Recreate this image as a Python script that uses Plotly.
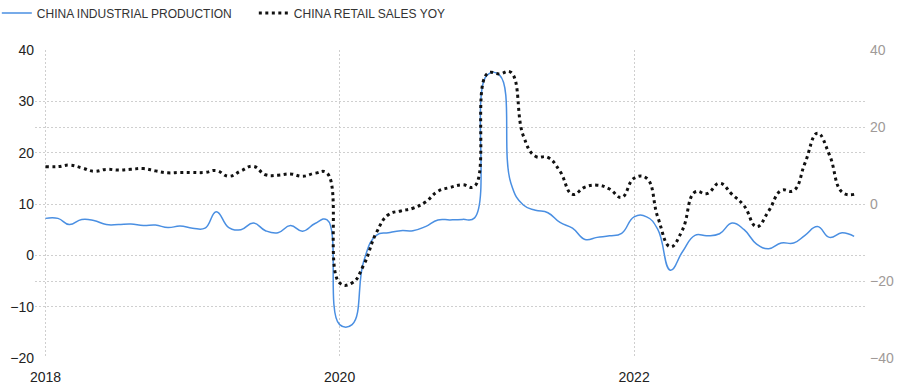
import pandas as pd
import plotly.graph_objects as go

# Monthly data, Jan 2018 - Jul 2023
months = pd.date_range("2018-01-01", periods=67, freq="MS")

industrial_production = [
    7.2, 7.2, 6.0, 7.0, 6.8, 6.0, 6.0, 6.1, 5.8, 5.9, 5.4, 5.7,
    5.3, 5.3, 8.5, 5.4, 5.0, 6.3, 4.8, 4.4, 5.8, 4.7, 6.2, 6.9,
    -13.5, -13.5, -1.1, 3.9, 4.4, 4.8, 4.8, 5.6, 6.9, 6.9, 7.0, 7.3,
    35.1, 35.1, 14.1, 9.8, 8.8, 8.3, 6.4, 5.3, 3.1, 3.5, 3.8, 4.3,
    7.5, 7.5, 5.0, -2.9, 0.7, 3.9, 3.8, 4.2, 6.3, 5.0, 2.2, 1.3,
    2.4, 2.4, 3.9, 5.6, 3.5, 4.4, 3.7,
]

retail_sales = [
    9.7, 9.7, 10.1, 9.4, 8.5, 9.0, 8.8, 9.0, 9.2, 8.6, 8.1, 8.2,
    8.2, 8.2, 8.7, 7.2, 8.6, 9.8, 7.6, 7.5, 7.8, 7.2, 8.0, 8.0,
    -20.5, -20.5, -15.8, -7.5, -2.8, -1.8, -1.1, 0.5, 3.3, 4.3, 5.0, 4.6,
    33.8, 33.8, 34.2, 17.7, 12.4, 12.1, 8.5, 2.5, 4.4, 4.9, 3.9, 1.7,
    6.7, 6.7, -3.5, -11.1, -6.7, 3.1, 2.7, 5.4, 2.5, -0.5, -5.9, -1.8,
    3.5, 3.5, 10.6, 18.4, 12.7, 3.1, 2.5,
]

left_ticks = [-20, -10, 0, 10, 20, 30, 40]
right_ticks = [-40, -20, 0, 20, 40]

fig = go.Figure()
fig.add_trace(go.Scatter(
    x=months, y=industrial_production, name="CHINA INDUSTRIAL PRODUCTION",
    mode="lines", line=dict(color="#4a8fe2", width=1.5, shape="spline", smoothing=1.3),
    yaxis="y",
))
fig.add_trace(go.Scatter(
    x=months, y=retail_sales, name="CHINA RETAIL SALES YOY",
    mode="lines", line=dict(color="#111111", width=3, dash="3px,3.5px", shape="spline", smoothing=1.3),
    yaxis="y2",
))

grid_color = "#cfcfcf"
fig.update_layout(
    width=900, height=392,
    margin=dict(l=35, r=35, t=50, b=34, autoexpand=False),
    paper_bgcolor="white", plot_bgcolor="white",
    font=dict(family="Liberation Sans, Arial, sans-serif", size=13, color="#222"),
    showlegend=True,
    legend=dict(orientation="h", x=-0.046, xanchor="left", y=1.12, yanchor="middle",
                font=dict(size=12, color="#333"), bgcolor="rgba(0,0,0,0)",
                itemwidth=30, tracegroupgap=0, entrywidth=212, entrywidthmode="pixels"),
    xaxis=dict(
        type="date",
        range=["2017-12-06", "2023-07-28"],
        tick0="2018-01-01", dtick="M24", tickformat="%Y",
        showgrid=True, gridcolor=grid_color, griddash="2px,2px", gridwidth=1,
        zeroline=False, showline=False, ticks="", automargin=False,
        ticklabelstandoff=9,
        tickfont=dict(size=14, color="#222"),
    ),
    yaxis=dict(
        range=[-20, 40], tickvals=left_ticks,
        showgrid=True, gridcolor=grid_color, griddash="2px,2px", gridwidth=1,
        zeroline=False, showline=False, ticks="", automargin=False,
        tickfont=dict(size=14, color="#222"),
    ),
    yaxis2=dict(
        range=[-40, 40], tickvals=right_ticks, overlaying="y", side="right",
        showgrid=True, gridcolor=grid_color, griddash="2px,2px", gridwidth=1,
        zeroline=False, showline=False, ticks="", automargin=False,
        ticklabelstandoff=4,
        tickfont=dict(size=14, color="#a09a98"),
    ),
)

fig.write_html("out.html")
